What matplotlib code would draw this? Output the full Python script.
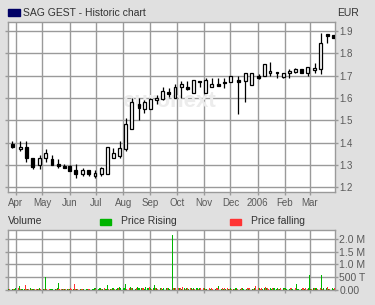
import matplotlib
matplotlib.use("Agg")
import matplotlib.pyplot as plt
import matplotlib.dates as mdates
import numpy as np
import pandas as pd

plt.rcParams['font.family'] = ['Liberation Sans', 'DejaVu Sans']

# ---------------- data ----------------
title = "SAG GEST - Historic chart"
currency = "EUR"

candle_dates = ["2005-03-28", "2005-04-06", "2005-04-13", "2005-04-20", "2005-04-28",
                "2005-05-05", "2005-05-12", "2005-05-19", "2005-05-26", "2005-06-01",
                "2005-06-08", "2005-06-16", "2005-06-23", "2005-06-30", "2005-07-07",
                "2005-07-14", "2005-07-21", "2005-07-28", "2005-08-04", "2005-08-11",
                "2005-08-19", "2005-08-25", "2005-09-01", "2005-09-08", "2005-09-15",
                "2005-09-22", "2005-09-29", "2005-10-06", "2005-10-13", "2005-10-20",
                "2005-10-27", "2005-11-03", "2005-11-10", "2005-11-17", "2005-11-24",
                "2005-12-01", "2005-12-10", "2005-12-18", "2005-12-25", "2006-01-02",
                "2006-01-09", "2006-01-15", "2006-01-23", "2006-01-30", "2006-02-06",
                "2006-02-13", "2006-02-20", "2006-02-27", "2006-03-07", "2006-03-14",
                "2006-03-21", "2006-03-28"]

open_ = [1.392, 1.370, 1.382, 1.332, 1.299, 1.332, 1.324, 1.303, 1.296, 1.294,
         1.275, 1.259, 1.275, 1.250, 1.258, 1.258, 1.331, 1.340, 1.370, 1.463,
         1.575, 1.549, 1.549, 1.591, 1.597, 1.625, 1.600, 1.650, 1.648, 1.622,
         1.678, 1.622, 1.648, 1.663, 1.673, 1.670, 1.680, 1.678, 1.660, 1.699,
         1.699, 1.710, 1.718, 1.696, 1.710, 1.718, 1.728, 1.710, 1.726, 1.728,
         1.888, 1.882]
high = [1.406, 1.406, 1.406, 1.332, 1.344, 1.373, 1.344, 1.324, 1.303, 1.299,
        1.302, 1.287, 1.275, 1.275, 1.291, 1.381, 1.374, 1.406, 1.510, 1.600,
        1.600, 1.590, 1.600, 1.612, 1.649, 1.645, 1.664, 1.676, 1.678, 1.680,
        1.678, 1.688, 1.688, 1.688, 1.688, 1.697, 1.700, 1.712, 1.712, 1.706,
        1.751, 1.761, 1.718, 1.713, 1.728, 1.736, 1.728, 1.739, 1.758, 1.893,
        1.888, 1.882]
low = [1.377, 1.361, 1.314, 1.281, 1.281, 1.314, 1.300, 1.284, 1.287, 1.274,
       1.239, 1.251, 1.251, 1.239, 1.251, 1.258, 1.331, 1.331, 1.361, 1.463,
       1.500, 1.534, 1.549, 1.575, 1.590, 1.604, 1.600, 1.600, 1.638, 1.622,
       1.648, 1.622, 1.648, 1.655, 1.645, 1.670, 1.528, 1.580, 1.660, 1.687,
       1.699, 1.699, 1.688, 1.688, 1.688, 1.710, 1.710, 1.699, 1.713, 1.706,
       1.848, 1.867]
close = [1.380, 1.382, 1.332, 1.288, 1.332, 1.355, 1.300, 1.296, 1.287, 1.274,
         1.259, 1.275, 1.259, 1.262, 1.284, 1.381, 1.354, 1.374, 1.481, 1.582,
         1.555, 1.582, 1.594, 1.600, 1.630, 1.619, 1.649, 1.662, 1.641, 1.680,
         1.670, 1.682, 1.663, 1.655, 1.666, 1.697, 1.673, 1.712, 1.712, 1.691,
         1.751, 1.721, 1.710, 1.710, 1.721, 1.728, 1.710, 1.739, 1.733, 1.848,
         1.878, 1.867]

# daily volume (thousands), one row per week (Mon..Fri) starting Monday 2005-03-21
volume_start = "2005-03-21"
volume_k = [
    0, 0, 10, 20, 15,        # Mar 21
    15, 30, 25, 20, 40,      # Mar 28
    40, 130, 20, 15, 30,     # Apr 4
    25, 170, 30, 20, 15,     # Apr 11
    40, 20, 30, 25, 20,      # Apr 18
    30, 20, 15, 40, 25,      # Apr 25
    20, 25, 30, 490, 20,     # May 2
    20, 30, 15, 25, 20,      # May 9
    30, 20, 40, 250, 25,     # May 16
    20, 25, 15, 30, 20,      # May 23
    25, 20, 35, 40, 20,      # May 30
    30, 210, 30, 20, 25,     # Jun 6
    20, 25, 15, 20, 30,      # Jun 13
    15, 20, 25, 20, 15,      # Jun 20
    25, 20, 30, 40, 20,      # Jun 27
    30, 60, 40, 20, 35,      # Jul 4
    40, 30, 20, 160, 30,     # Jul 11
    25, 35, 60, 40, 20,      # Jul 18
    30, 45, 60, 80, 40,      # Jul 25
    50, 30, 40, 210, 30,     # Aug 1
    60, 80, 50, 70, 40,      # Aug 8
    30, 60, 80, 40, 50,      # Aug 15
    70, 50, 40, 30, 80,      # Aug 22
    40, 50, 90, 60, 30,      # Aug 29
    40, 170, 50, 40, 30,     # Sep 5
    60, 50, 40, 30, 70,      # Sep 12
    40, 30, 60, 50, 30,      # Sep 19
    2170, 70, 60, 40, 50,    # Sep 26
    60, 40, 50, 30, 80,      # Oct 3
    40, 30, 60, 40, 30,      # Oct 10
    70, 40, 30, 50, 20,      # Oct 17
    40, 60, 30, 40, 50,      # Oct 24
    30, 60, 40, 20, 30,      # Oct 31
    40, 30, 70, 50, 30,      # Nov 7
    30, 40, 60, 130, 30,     # Nov 14
    20, 50, 30, 40, 20,      # Nov 21
    60, 30, 20, 40, 30,      # Nov 28
    20, 30, 60, 40, 20,      # Dec 5
    30, 20, 40, 50, 30,      # Dec 12
    20, 30, 40, 20, 60,      # Dec 19
    30, 20, 40, 30, 130,     # Dec 26
    40, 60, 30, 50, 20,      # Jan 2
    50, 80, 40, 60, 30,      # Jan 9
    40, 30, 60, 50, 40,      # Jan 16
    30, 40, 20, 30, 50,      # Jan 23
    40, 60, 30, 40, 30,      # Jan 30
    30, 50, 40, 30, 20,      # Feb 6
    40, 225, 30, 20, 30,     # Feb 13
    30, 40, 60, 30, 40,      # Feb 20
    30, 40, 570, 30, 20,     # Feb 27
    40, 50, 60, 40, 30,      # Mar 6
    60, 40, 570, 30, 40,     # Mar 13
    40, 80, 30, 20, 30,      # Mar 20
    50, 30, 40, 20, 30,      # Mar 27
]
volume_up = (
    "rrggr" "grgrg" "rgrgg" "grrgr" "grggr" "rgrgr" "grrgr" "rgrgg" "grggr" "rgrgr"
    "grgrr" "grrgr" "rgrrg" "grgrr" "ggrgr" "gggrg" "rgggr" "grggr" "ggrgg" "grggr"
    "rggrg" "grgrg" "grrgg" "ggrgr" "ggrgr" "rgrgg" "grrgg" "grrgr" "rgrgr" "grgrg"
    "rgrgr" "ggrgr" "grgrg" "rggrr" "grrgr" "grgrg" "rgrgr" "grggr" "rgrgg" "grrgr"
    "grggr" "rgrrg" "grgrr" "ggrgg" "ggrgr" "rgrgg" "grrgg" "rggrg" "grrgr" "rgggr"
    "grggr" "rrgrg" "grrgr" "ggrrg" "rgrgg"
)
vol_tick_vals = [0, 500, 1000, 1500, 2000]
vol_tick_labels = ["0.00", "500 T", "1.0 M", "1.5 M", "2.0 M"]
price_ticks = [1.2, 1.3, 1.4, 1.5, 1.6, 1.7, 1.8, 1.9]
month_starts = ["2005-04-01", "2005-05-01", "2005-06-01", "2005-07-01", "2005-08-01",
                "2005-09-01", "2005-10-01", "2005-11-01", "2005-12-01", "2006-01-01",
                "2006-02-01", "2006-03-01"]
month_labels = ["Apr", "May", "Jun", "Jul", "Aug", "Sep", "Oct", "Nov", "Dec", "2006",
                "Feb", "Mar"]

# ---------------- style ----------------
BG = "#e0e0e0"
GRID = "#9a9a9a"
TXT = "#5a5a5a"
GREEN = "#00b400"
RED = "#ff3333"
W, H = 375, 305

fig = plt.figure(figsize=(W / 100, H / 100), dpi=100, facecolor=BG)

def fx(px):
    return px / W

def fy(py):
    return 1 - py / H

ax = fig.add_axes([fx(8), fy(192), fx(335 - 8), (192 - 22) / H])
axv = fig.add_axes([fx(8), fy(289.5), fx(335 - 8), (289.5 - 229.5) / H])

xmin = mdates.date2num(pd.Timestamp("2005-03-23"))
xmax = mdates.date2num(pd.Timestamp("2006-03-30"))
mticks = mdates.date2num(pd.to_datetime(month_starts))

for a in (ax, axv):
    a.set_facecolor("white")
    a.set_xlim(xmin, xmax)
    a.set_xticks(mticks)
    a.grid(True, color=GRID, linewidth=1.0)
    a.set_axisbelow(True)
    for s in a.spines.values():
        s.set_color(GRID)
        s.set_linewidth(1.0)
    a.yaxis.tick_right()
    a.tick_params(axis="both", which="both", length=2, width=1.0, color=GRID,
                  labelsize=7, labelcolor=TXT, pad=1, left=True, right=True,
                  bottom=True, top=False)

# candles
cx = mdates.date2num(pd.to_datetime(candle_dates))
o = np.array(open_)
c = np.array(close)
h = np.array(high)
l = np.array(low)
rising = c >= o
ax.vlines(cx, l, h, color="black", linewidth=0.9, zorder=3)
body_lo = np.minimum(o, c)
body_h = np.maximum(np.abs(c - o), 0.003)
ax.bar(cx, body_h, bottom=body_lo, width=3.3,
       color=np.where(rising, "white", "black"), edgecolor="black",
       linewidth=0.9, zorder=4)
ax.set_ylim(1.178, 1.941)
ax.set_yticks(price_ticks)
ax.set_yticklabels([f"{v:.1f}" for v in price_ticks])
ax.set_xticklabels(month_labels)
ax.tick_params(axis="x", pad=2)

# watermark
ax.text(mdates.date2num(pd.Timestamp("2005-09-22")), 1.585, "euronext",
        fontsize=16, fontweight="bold", color="#ececec", ha="center", va="center",
        zorder=1)

# volume
vdates = pd.bdate_range(volume_start, periods=len(volume_k))
vx = mdates.date2num(vdates)
vcols = [GREEN if f == "g" else RED for f in volume_up[:len(volume_k)]]
axv.bar(vx, volume_k, width=1.2, color=vcols, linewidth=0, zorder=3,
        antialiased=False)
axv.set_ylim(0, 2370)
axv.set_yticks(vol_tick_vals)
axv.set_yticklabels(vol_tick_labels)
axv.set_xticklabels([])
axv.tick_params(axis="y", labelsize=7.5)

# header texts
fig.patches.append(plt.Rectangle((fx(8), fy(15.5)), fx(12), 6.5 / H,
                                 transform=fig.transFigure, color="#000066"))
fig.text(fx(23), fy(12.5), title, fontsize=7.5, color="#333333", va="center", ha="left")
fig.text(fx(337), fy(12.5), currency, fontsize=7.5, color="#333333", va="center", ha="left")

# volume legend
fig.text(fx(8), fy(221.5), "Volume", fontsize=7.5, color="#333333", va="center", ha="left")
fig.patches.append(plt.Rectangle((fx(100), fy(224.5)), fx(11), 5.5 / H,
                                 transform=fig.transFigure, color=GREEN))
fig.text(fx(120.5), fy(221.5), "Price Rising", fontsize=7.5, color="#333333",
         va="center", ha="left")
fig.patches.append(plt.Rectangle((fx(230), fy(224.5)), fx(11), 5.5 / H,
                                 transform=fig.transFigure, color=RED))
fig.text(fx(250.5), fy(221.5), "Price falling", fontsize=7.5, color="#333333",
         va="center", ha="left")

fig.savefig("out.png", dpi=100, facecolor=BG)
